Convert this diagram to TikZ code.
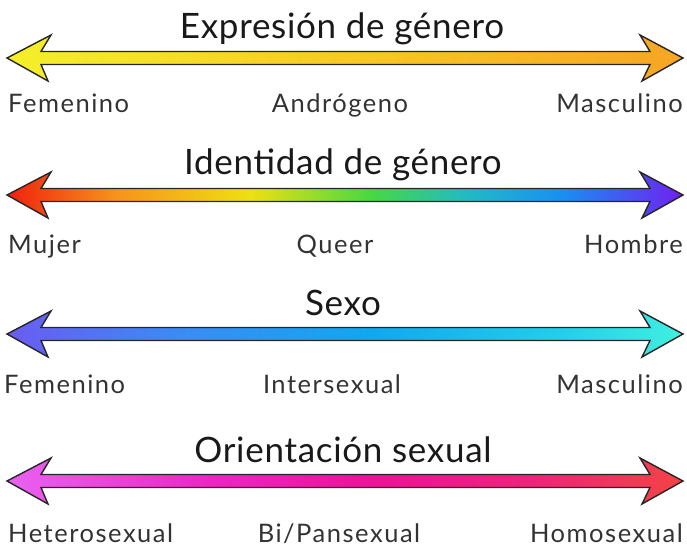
\documentclass[tikz,border=0pt]{standalone}
\usepackage{fontspec}
\setmainfont{Lato}
\newfontfamily\titlefont[LetterSpace=2]{Lato}
\newfontfamily\labelfont[LetterSpace=6]{Lato}
\usepackage{tikz}

\definecolor{expL}{HTML}{F4F02A}
\definecolor{expM}{HTML}{F8CA22}
\definecolor{expR}{HTML}{F6A524}
\definecolor{idA}{HTML}{F0200E}
\definecolor{idB}{HTML}{F7921C}
\definecolor{idC}{HTML}{EEE012}
\definecolor{idD}{HTML}{46D843}
\definecolor{idE}{HTML}{22BAC4}
\definecolor{idF}{HTML}{1890F2}
\definecolor{idG}{HTML}{7020F0}
\definecolor{sxA}{HTML}{6A5CF2}
\definecolor{sxB}{HTML}{3A8CF4}
\definecolor{sxC}{HTML}{10A8F0}
\definecolor{sxD}{HTML}{22CFEA}
\definecolor{sxE}{HTML}{40F0E0}
\definecolor{orA}{HTML}{E862F2}
\definecolor{orB}{HTML}{F024C4}
\definecolor{orC}{HTML}{F0109A}
\definecolor{orD}{HTML}{F2227A}
\definecolor{orE}{HTML}{F24444}
\definecolor{ink}{HTML}{333333}

% horizontal colour ramps, fitted between 25bp and 75bp
\pgfdeclarehorizontalshading{expresion}{100bp}{color(0bp)=(expL); color(25bp)=(expL); color(50bp)=(expM); color(75bp)=(expR); color(100bp)=(expR)}
\pgfdeclarehorizontalshading{identidad}{100bp}{color(0bp)=(idA); color(25bp)=(idA); color(33bp)=(idB); color(43bp)=(idC); color(52bp)=(idD); color(59bp)=(idE); color(66bp)=(idF); color(75bp)=(idG); color(100bp)=(idG)}
\pgfdeclarehorizontalshading{sexo}{100bp}{color(0bp)=(sxA); color(25bp)=(sxA); color(38bp)=(sxB); color(52bp)=(sxC); color(66bp)=(sxD); color(75bp)=(sxE); color(100bp)=(sxE)}
\pgfdeclarehorizontalshading{orientacion}{100bp}{color(0bp)=(orA); color(25bp)=(orA); color(40bp)=(orB); color(52bp)=(orC); color(64bp)=(orD); color(75bp)=(orE); color(100bp)=(orE)}

\tikzset{
  title/.style={font=\titlefont\fontsize{35}{42}\selectfont, text=black!90, inner sep=0pt, anchor=base},
  scale label/.style={font=\labelfont\fontsize{25.5}{30}\selectfont, text=ink, inner sep=0pt},
  arrow outline/.style={draw=black!85, line width=1.4pt, line join=miter}
}

\begin{document}
\begin{tikzpicture}[x=1pt, y=-1pt]
\newcommand{\tipL}{7}
\newcommand{\tipR}{683}
\newcommand{\shaft}{6.5}
\newcommand{\head}{23}
\useasboundingbox (0,0) rectangle (687,548);
\foreach \row/\ypos/\shd in {1/58/expresion, 2/195/identidad, 3/334/sexo, 4/481/orientacion}{
  \path[arrow outline, shading=\shd]
    (\tipL, \ypos) -- (\tipL+44, \ypos-\head) -- (\tipL+34, \ypos-\shaft)
    -- (\tipR-33, \ypos-\shaft) -- (\tipR-43, \ypos-\head) -- (\tipR, \ypos)
    -- (\tipR-41, \ypos+\head) -- (\tipR-33, \ypos+\shaft)
    -- (\tipL+34, \ypos+\shaft) -- (\tipL+41, \ypos+\head) -- cycle;
}
% titles
\node[title] (expresion) at (342, 39) {Expresión de género};
\node[title] (identidad) at (343, 175) {Identidad de género};
\node[title] (sexo) at (343, 315) {Sexo};
\node[title] (orientacion) at (343, 462) {Orientación sexual};
% scale ends
\node[scale label, anchor=base west] (fem1) at (8, 113) {Femenino};
\node[scale label, anchor=base] (andro) at (340, 113) {Andrógeno};
\node[scale label, anchor=base east] (mas1) at (683, 113) {Masculino};
\node[scale label, anchor=base west] (mujer) at (8, 253) {Mujer};
\node[scale label, anchor=base] (queer) at (335, 253) {Queer};
\node[scale label, anchor=base east] (hombre) at (683, 253) {Hombre};
\node[scale label, anchor=base west] (fem2) at (4, 393) {Femenino};
\node[scale label, anchor=base] (inter) at (332, 393) {Intersexual};
\node[scale label, anchor=base east] (mas2) at (683, 393) {Masculino};
\node[scale label, anchor=base west] (hetero) at (8, 542) {Heterosexual};
\node[scale label, anchor=base] (bipan) at (339, 542) {Bi/Pansexual};
\node[scale label, anchor=base east] (homo) at (683, 542) {Homosexual};
\end{tikzpicture}
\end{document}
